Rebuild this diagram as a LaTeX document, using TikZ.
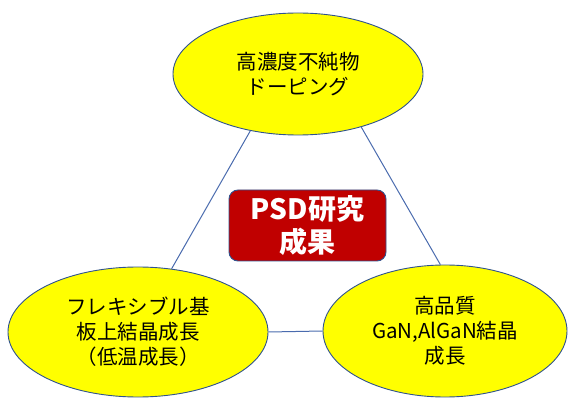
\documentclass[tikz,border=0pt]{standalone}
\usepackage{fontspec}
\setmainfont{Noto Sans CJK JP}
\usetikzlibrary{shapes.geometric}
\definecolor{ellfill}{HTML}{FFFF00}
\definecolor{ellline}{HTML}{2F528F}
\definecolor{conn}{HTML}{4A6BAE}
\definecolor{boxred}{HTML}{C00000}
\tikzset{
  topic/.style={ellipse, draw=ellline, line width=0.9pt, fill=ellfill, inner sep=0pt, align=center,
    font=\fontsize{20.5}{25}\selectfont, text=black},
  result/.style={draw=ellline, line width=0.9pt, fill=boxred, rounded corners=9pt, inner sep=0pt,
    align=center, font=\fontsize{28}{33}\selectfont\bfseries, text=white},
  link/.style={draw=conn, line width=1pt}
}
\begin{document}
\begin{tikzpicture}[x=1pt,y=-1pt]
\useasboundingbox (0,0) rectangle (568,398);
\node[topic, minimum width=250pt, minimum height=122pt] (top) at (298,74) {高濃度不純物\\ドーピング};
\node[topic, minimum width=260pt, minimum height=130pt] (bl) at (138,332) {フレキシブル基\\板上結晶成長\\（低温成長）};
\node[topic, minimum width=244pt, minimum height=132pt] (br) at (445,331) {高品質\\GaN,AlGaN結晶\\成長};
\node[result, minimum width=157pt, minimum height=71pt] (res) at (307.5,225.5) {PSD研究\\成果};
\draw[link] (top.230) -- (bl.62);
\draw[link] (top.320) -- (br.94);
\draw[link] (bl.east) -- (br.west);
\end{tikzpicture}
\end{document}
